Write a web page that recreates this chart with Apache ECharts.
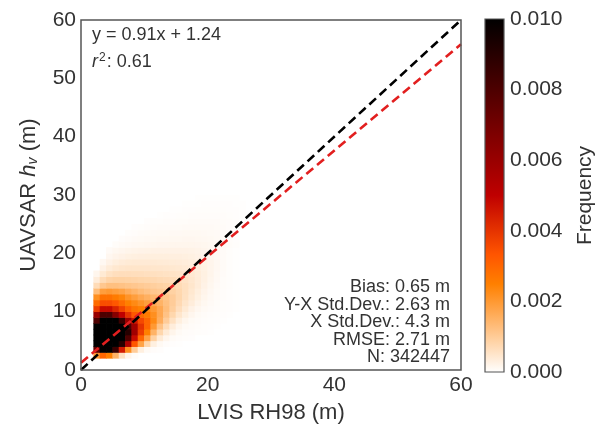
<!DOCTYPE html>
<html>
<head>
<meta charset="utf-8">
<script src="https://cdn.jsdelivr.net/npm/echarts@6/dist/echarts.min.js"></script>
<style>
html,body{margin:0;padding:0;background:#fff;}
#main{width:599px;height:429px;}
</style>
</head>
<body>
<div id="main"></div>
<script>
// ---- data (density in units of 1e-3, 1 m x 1 m bins) ----
const axisTicks = [0, 20, 40, 60];
const colorbarTicks = [0, 0.002, 0.004, 0.006, 0.008, 0.010];
const binY = [2,3,4,5,6,7,8,9,10,11,12,13,14,15,16,17,18,19,20,21,22,23,24,25,26,27,28,29];
const binStartX = [2,2,2,2,2,2,2,2,2,2,2,2,2,2,2,3,3,4,4,5,6,7,8,10,12,14,16,18];
const freqPerMille = [
  [2, 3, 2.5, 1.5, 0.6, 0.2, 0.06],
  [7.5, 12, 11.5, 8.5, 4.5, 2.2, 1, 0.3, 0.1, 0.05, 0.03],
  [11, 18, 17, 14, 9, 5.5, 3.3, 1.8, 0.8, 0.3, 0.12, 0.05, 0.03, 0.02],
  [12, 20, 20, 17, 12.5, 8, 4.8, 3, 1.8, 0.9, 0.4, 0.18, 0.08, 0.05, 0.04, 0.03],
  [12, 18, 19, 17, 13.5, 9, 5.8, 3.8, 2.5, 1.5, 0.8, 0.4, 0.2, 0.1, 0.06, 0.05, 0.04, 0.03, 0.02],
  [11, 15, 16, 15, 11.5, 8, 5.8, 4, 3, 2, 1.2, 0.7, 0.35, 0.18, 0.1, 0.07, 0.05, 0.04, 0.03, 0.02],
  [8, 12, 12.5, 11, 8.5, 6, 4.6, 3.6, 3, 2.3, 1.6, 1, 0.6, 0.32, 0.18, 0.1, 0.07, 0.05, 0.04, 0.03, 0.02],
  [6, 8, 8, 6.5, 5, 4, 3.3, 2.9, 2.6, 2.2, 1.7, 1.2, 0.8, 0.5, 0.3, 0.17, 0.1, 0.07, 0.05, 0.04, 0.03, 0.02],
  [3.8, 4.8, 4.8, 4.3, 3.7, 3.1, 2.7, 2.5, 2.3, 2, 1.7, 1.3, 0.95, 0.65, 0.42, 0.25, 0.15, 0.1, 0.07, 0.05, 0.04, 0.03, 0.02],
  [2.9, 3.5, 3.5, 3.3, 2.9, 2.5, 2.3, 2.1, 1.9, 1.7, 1.5, 1.25, 1, 0.75, 0.52, 0.35, 0.22, 0.14, 0.09, 0.06, 0.04, 0.03, 0.02],
  [2.2, 2.8, 2.8, 2.6, 2.4, 2.1, 1.9, 1.7, 1.55, 1.4, 1.3, 1.15, 1, 0.8, 0.6, 0.42, 0.28, 0.18, 0.11, 0.07, 0.05, 0.03, 0.02],
  [1.3, 1.9, 2, 1.9, 1.8, 1.6, 1.45, 1.3, 1.2, 1.1, 1.05, 1, 0.9, 0.78, 0.62, 0.46, 0.32, 0.21, 0.13, 0.08, 0.05, 0.03, 0.02],
  [0.7, 1.1, 1.25, 1.25, 1.2, 1.15, 1.1, 1.05, 1, 0.95, 0.9, 0.86, 0.8, 0.72, 0.62, 0.5, 0.37, 0.25, 0.16, 0.09, 0.06, 0.04, 0.02],
  [0.35, 0.7, 0.85, 0.9, 0.9, 0.88, 0.85, 0.82, 0.8, 0.77, 0.74, 0.71, 0.68, 0.63, 0.56, 0.47, 0.37, 0.27, 0.18, 0.11, 0.06, 0.04, 0.02],
  [0.18, 0.42, 0.58, 0.65, 0.67, 0.67, 0.66, 0.65, 0.63, 0.62, 0.6, 0.58, 0.56, 0.53, 0.49, 0.43, 0.36, 0.28, 0.2, 0.12, 0.07, 0.04, 0.02],
  [0.25, 0.38, 0.46, 0.5, 0.52, 0.52, 0.52, 0.51, 0.5, 0.49, 0.48, 0.46, 0.44, 0.41, 0.37, 0.32, 0.26, 0.19, 0.13, 0.08, 0.04, 0.02],
  [0.13, 0.25, 0.32, 0.37, 0.4, 0.41, 0.41, 0.41, 0.41, 0.4, 0.39, 0.38, 0.37, 0.35, 0.32, 0.29, 0.24, 0.19, 0.13, 0.08, 0.04, 0.02],
  [0.15, 0.21, 0.25, 0.28, 0.3, 0.31, 0.32, 0.32, 0.32, 0.32, 0.31, 0.31, 0.3, 0.28, 0.25, 0.21, 0.16, 0.11, 0.07, 0.04, 0.02],
  [0.09, 0.14, 0.17, 0.2, 0.22, 0.23, 0.24, 0.25, 0.25, 0.25, 0.25, 0.25, 0.25, 0.24, 0.22, 0.19, 0.15, 0.11, 0.07, 0.04, 0.02],
  [0.06, 0.09, 0.11, 0.13, 0.14, 0.15, 0.16, 0.17, 0.17, 0.18, 0.18, 0.18, 0.18, 0.17, 0.16, 0.14, 0.12, 0.09, 0.06, 0.04],
  [0.05, 0.07, 0.09, 0.1, 0.11, 0.12, 0.13, 0.13, 0.14, 0.14, 0.15, 0.15, 0.14, 0.13, 0.12, 0.1, 0.08, 0.05, 0.03],
  [0.04, 0.05, 0.07, 0.08, 0.09, 0.1, 0.1, 0.11, 0.11, 0.12, 0.12, 0.12, 0.11, 0.1, 0.09, 0.07, 0.05, 0.03],
  [0.03, 0.04, 0.05, 0.06, 0.07, 0.07, 0.08, 0.08, 0.09, 0.09, 0.09, 0.09, 0.09, 0.08, 0.07, 0.05, 0.04, 0.02],
  [0.03, 0.04, 0.04, 0.05, 0.05, 0.06, 0.06, 0.07, 0.07, 0.07, 0.07, 0.07, 0.06, 0.05, 0.04, 0.02],
  [0.02, 0.03, 0.03, 0.04, 0.04, 0.05, 0.05, 0.05, 0.05, 0.05, 0.05, 0.04, 0.03, 0.02],
  [0.02, 0.02, 0.03, 0.03, 0.04, 0.04, 0.04, 0.04, 0.04, 0.03, 0.03, 0.02],
  [0.02, 0.02, 0.02, 0.03, 0.03, 0.03, 0.03, 0.03, 0.02, 0.02],
  [0.02, 0.02, 0.02, 0.02, 0.02, 0.02, 0.02]
];
const oneToOneLine = [[0, 0], [60, 60]];
const fitLine = [[0, 1.24], [60, 55.84]];
const statsTopLines = ['y = 0.91x + 1.24', ': 0.61'];
const statsBottomLines = ['Bias: 0.65 m', 'Y-X Std.Dev.: 2.63 m', 'X Std.Dev.: 4.3 m', 'RMSE: 2.71 m', 'N: 342447'];

// gist_heat_r colour ramp
const heatColors = ['#ffffff','#ffd5aa','#ffaa55','#ff8000','#ff5500','#df2b00','#bf0000','#9f0000','#800000','#600000','#400000','#200000','#000000'];

// ---- build cells ----
const cells = [];
binY.forEach((y, r) => {
  freqPerMille[r].forEach((v, k) => {
    cells.push([binStartX[r] + k, y, v / 1000]);
  });
});

const FONT = 'Liberation Sans, Arial, sans-serif';
const TXT = '#333333';

const bottomTextEls = statsBottomLines.map((t, i) => ({
  type: 'text', x: 450, y: 287 + i * 17.6, z: 20,
  style: { text: t, fontSize: 18, fill: TXT, fontFamily: FONT, align: 'right', verticalAlign: 'middle' }
}));

const chart = echarts.init(document.getElementById('main'));
const option = {
  backgroundColor: '#ffffff',
  animation: false,
  textStyle: { fontFamily: FONT },
  grid: [
    { left: 81, top: 20, width: 380, height: 353, show: true, borderColor: '#555555', borderWidth: 1.5, backgroundColor: 'transparent', z: 10 },
    { left: 485, top: 19, width: 19, height: 353 }
  ],
  xAxis: [
    {
      gridIndex: 0, type: 'value', min: 0, max: 60, interval: 20,
      name: 'LVIS RH98 (m)', nameLocation: 'middle', nameGap: 32,
      nameTextStyle: { fontSize: 22, color: TXT, fontFamily: FONT },
      axisLine: { show: false }, axisTick: { show: false }, splitLine: { show: false },
      axisLabel: { fontSize: 21, color: TXT, margin: 5, fontFamily: FONT }
    },
    { gridIndex: 1, type: 'value', min: 0, max: 1, show: false }
  ],
  yAxis: [
    {
      gridIndex: 0, type: 'value', min: 0, max: 60, interval: 10,
      name: '{n|UAVSAR }{i|h}{s|v}{n| (m)}', nameLocation: 'middle', nameGap: 41, nameRotate: 90,
      nameTextStyle: {
        color: TXT,
        rich: {
          n: { fontSize: 22, color: TXT, fontFamily: FONT },
          i: { fontSize: 22, color: TXT, fontFamily: FONT, fontStyle: 'italic' },
          s: { fontSize: 14, color: TXT, fontFamily: FONT, fontStyle: 'italic', verticalAlign: 'bottom', padding: [8, 0, 0, 0] }
        }
      },
      axisLine: { show: false }, axisTick: { show: false }, splitLine: { show: false },
      axisLabel: { fontSize: 21, color: TXT, margin: 5, fontFamily: FONT }
    },
    {
      gridIndex: 1, type: 'value', min: 0, max: 0.01, interval: 0.002, position: 'right',
      name: 'Frequency', nameLocation: 'middle', nameGap: 71, nameRotate: 90,
      nameTextStyle: { fontSize: 21, color: TXT, fontFamily: FONT },
      axisLine: { show: false }, axisTick: { show: false }, splitLine: { show: false },
      axisLabel: { fontSize: 21, color: TXT, margin: 6, fontFamily: FONT, formatter: v => v.toFixed(3) }
    }
  ],
  visualMap: {
    type: 'continuous', show: false, seriesIndex: 0, dimension: 2,
    min: colorbarTicks[0], max: colorbarTicks[colorbarTicks.length - 1],
    inRange: { color: heatColors }, outOfRange: { color: '#000000' }
  },
  series: [
    {
      type: 'custom', xAxisIndex: 0, yAxisIndex: 0, data: cells,
      encode: { x: 0, y: 1 }, clip: true, z: 1,
      renderItem: function (params, api) {
        const x = api.value(0), y = api.value(1);
        const p0 = api.coord([x, y + 1]);
        const p1 = api.coord([x + 1, y]);
        return {
          type: 'rect',
          shape: { x: p0[0] - 0.3, y: p0[1] - 0.3, width: p1[0] - p0[0] + 0.6, height: p1[1] - p0[1] + 0.6 },
          style: { fill: api.visual('color') }
        };
      }
    },
    {
      type: 'line', xAxisIndex: 0, yAxisIndex: 0, data: oneToOneLine, symbol: 'none', z: 5,
      lineStyle: { color: '#000000', width: 2.6, type: [9, 5] }
    },
    {
      type: 'line', xAxisIndex: 0, yAxisIndex: 0, data: fitLine, symbol: 'none', z: 4,
      lineStyle: { color: '#e21f1f', width: 2.6, type: [9, 5] }
    },
    {
      type: 'custom', xAxisIndex: 1, yAxisIndex: 1, data: [[0, 0]], z: 2,
      renderItem: function (params, api) {
        const top = api.coord([0, colorbarTicks[colorbarTicks.length - 1]]);
        const bot = api.coord([1, colorbarTicks[0]]);
        const n = heatColors.length - 1;
        const stops = heatColors.map((c, i) => ({ offset: 1 - i / n, color: c })).reverse();
        return {
          type: 'rect',
          shape: { x: top[0], y: top[1], width: bot[0] - top[0], height: bot[1] - top[1] },
          style: {
            fill: new echarts.graphic.LinearGradient(0, 0, 0, 1, stops),
            stroke: '#555555', lineWidth: 1.2
          }
        };
      }
    }
  ],
  graphic: [
    { type: 'text', left: 92, top: 26, z: 20, style: { text: statsTopLines[0], fontSize: 18, fill: TXT, fontFamily: FONT } },
    { type: 'text', left: 92, top: 52, z: 20, style: {
        text: '{i|r}{s|2}{n|' + statsTopLines[1] + '}',
        rich: {
          n: { fontSize: 18, fill: TXT, fontFamily: FONT },
          i: { fontSize: 18, fill: TXT, fontFamily: FONT, fontStyle: 'italic' },
          s: { fontSize: 12, fill: TXT, fontFamily: FONT, verticalAlign: 'top', padding: [0, 1, 8, 1] }
        }
    } }
  ].concat(bottomTextEls)
};
chart.setOption(option);
</script>
</body>
</html>
